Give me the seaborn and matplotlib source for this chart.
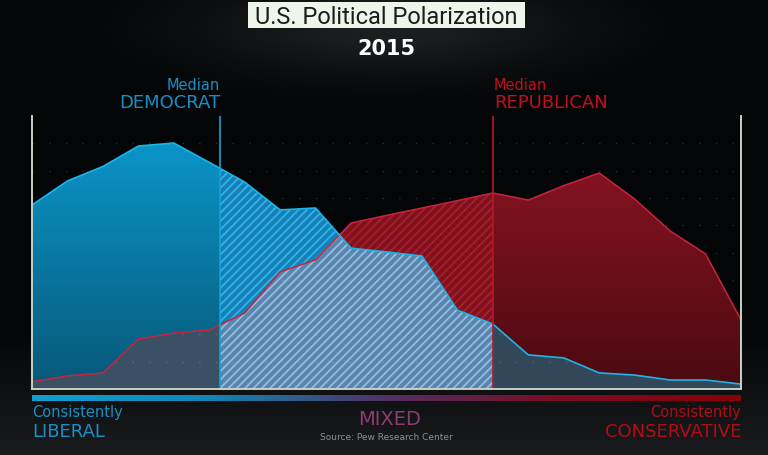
import numpy as np
import matplotlib
matplotlib.use('Agg')
import matplotlib.pyplot as plt
import seaborn as sns
from matplotlib.patches import Rectangle
from matplotlib.colors import LinearSegmentedColormap

# %% data - Pew ideological consistency scale (-10 liberal .. +10 conservative), share of party
scale = np.arange(-10, 11)
dem = [6.74, 7.62, 8.15, 8.90, 9.01, 8.30, 7.58, 6.56, 6.63, 5.16, 5.02,
       4.87, 2.89, 2.38, 1.25, 1.14, 0.59, 0.51, 0.33, 0.33, 0.18]
rep = [0.26, 0.48, 0.59, 1.83, 2.05, 2.16, 2.78, 4.29, 4.73, 6.08, 6.36,
       6.63, 6.90, 7.18, 6.92, 7.45, 7.91, 6.96, 5.79, 4.95, 2.53]
med_dem = -4.7
med_rep = 3.0

dem = np.array(dem)
rep = np.array(rep)

sns.set_style('dark')
plt.rcParams['font.family'] = ['DejaVu Sans']
plt.rcParams['hatch.linewidth'] = 1.3

W, H = 768, 456
fig = plt.figure(figsize=(W / 100, H / 100), dpi=100)

# %% background: near black with lighter floor and a glow behind the title
bg = fig.add_axes([0, 0, 1, 1], zorder=-10)
yy, xx = np.mgrid[0:H, 0:W]
t = np.clip((yy - 330) / 126, 0, 1)[..., None]
top = np.array([0.016, 0.02, 0.024])
bot = np.array([0.10, 0.108, 0.118])
img = top * (1 - t) + bot * t
img = img + (0.10 * np.exp(-((xx - 386) / 190) ** 2 - ((yy - 28) / 48) ** 2))[..., None]
bg.imshow(np.clip(img, 0, 1), aspect='auto')
bg.axis('off')

# %% main axes
ax = fig.add_axes([32 / W, 66 / H, 709 / W, 273 / H])
ax.patch.set_alpha(0)
ax.set_xlim(-10, 10)
ax.set_ylim(0, 10)


def rect(x0, x1):
    return Rectangle((x0, -1), x1 - x0, 12, transform=ax.transData)


def flat(y1, y2, x0, x1, fc, z, hatch=None, ec='none', where=None):
    p = ax.fill_between(scale, y1, y2, where=where, interpolate=True,
                        facecolor=fc, edgecolor=ec, hatch=hatch,
                        linewidth=0, zorder=z)
    p.set_clip_path(rect(x0, x1))


def grad(y1, y2, x0, x1, c_top, c_bot, z, where=None):
    p = ax.fill_between(scale, y1, y2, where=where, interpolate=True,
                        facecolor='none', linewidth=0)
    cmap = LinearSegmentedColormap.from_list('g', [c_bot, c_top])
    im = ax.imshow(np.linspace(0, 1, 256).reshape(-1, 1), extent=[x0, x1, 0, 10],
                   origin='lower', aspect='auto', cmap=cmap, zorder=z)
    im.set_clip_path(p.get_paths()[0], transform=ax.transData)


# overlap (under both curves) - drawn over the union, the single-party parts go on top
for y in (dem, rep):
    flat(0, y, -10, med_dem, '#3a5165', 2)
    flat(0, y, med_dem, med_rep, '#5c85ab', 2, hatch='////', ec='#90bee6')
    flat(0, y, med_rep, 10, '#32475a', 2)

# democrat only
blue_only = dem >= rep
grad(rep, dem, -10, med_dem, '#0b9bd0', '#075878', 3, where=blue_only)
flat(rep, dem, med_dem, 10, '#1680b6', 3, hatch='////', ec='#2db3ea', where=blue_only)

# republican only
red_only = rep >= dem
flat(dem, rep, -10, med_rep, '#7e131e', 3, hatch='////', ec='#ac1e2f', where=red_only)
grad(dem, rep, med_rep, 10, '#941526', '#4a0a11', 3, where=red_only)

sns.lineplot(x=scale, y=rep, ax=ax, color='#c8233d', lw=1.1, zorder=5)
sns.lineplot(x=scale, y=dem, ax=ax, color='#1cb4e8', lw=1.2, zorder=5)

ax.axvline(med_dem, color='#1a9fd4', lw=1.2, zorder=6)
ax.axvline(med_rep, color='#b8162c', lw=1.2, zorder=6)

# dotted lattice
ax.set_axisbelow(False)
ax.set_yticks(np.arange(1, 10))
ax.set_xticks([])
ax.yaxis.grid(True, color='white', alpha=0.16, linestyle=(0, (1, 11)), lw=1)
ax.xaxis.grid(False)
ax.tick_params(length=0, labelbottom=False, labelleft=False)
ax.set_xlabel('')
ax.set_ylabel('')
for s in ['left', 'right', 'bottom']:
    ax.spines[s].set_visible(True)
    ax.spines[s].set_color('#c9d1c6')
    ax.spines[s].set_linewidth(1.4)
    ax.spines[s].set_zorder(7)
ax.spines['top'].set_visible(False)

# %% liberal -> conservative colour strip
cb = fig.add_axes([32 / W, 54 / H, 709 / W, 6 / H])
strip = LinearSegmentedColormap.from_list(
    'strip', ['#119fd2', '#0f86b5', '#533064', '#7a0c22', '#8a0008'])
cb.imshow(np.linspace(0, 1, 512).reshape(1, -1), aspect='auto', cmap=strip)
cb.axis('off')

# %% text
def fy(px):
    return 1 - px / H


fig.patches.append(Rectangle((248 / W, fy(29)), 277 / W, 26 / H, transform=fig.transFigure,
                             facecolor='#eef5ea', edgecolor='none', zorder=1))
fig.text(386 / W, fy(17), 'U.S. Political Polarization', ha='center', va='center',
         family='Roboto', fontsize=17, color='#1c1c1c', zorder=2)
fig.text(386 / W, fy(49), '2015', ha='center', va='center', fontsize=15,
         fontweight='bold', color='white')

blue_t = '#1a8fc4'
red_t = '#c0101e'
fig.text(220 / W, fy(85), 'Median', ha='right', va='center', fontsize=10.5, color=blue_t)
fig.text(220 / W, fy(103), 'DEMOCRAT', ha='right', va='center', fontsize=13, color=blue_t)
fig.text(494 / W, fy(85), 'Median', ha='left', va='center', fontsize=10.5, color=red_t)
fig.text(494 / W, fy(103), 'REPUBLICAN', ha='left', va='center', fontsize=13, color=red_t)

fig.text(32 / W, fy(413), 'Consistently', ha='left', va='center', fontsize=10.5, color=blue_t)
fig.text(32 / W, fy(432), 'LIBERAL', ha='left', va='center', fontsize=13, color=blue_t)
fig.text(741 / W, fy(413), 'Consistently', ha='right', va='center', fontsize=10.5, color='#b00c16')
fig.text(741 / W, fy(432), 'CONSERVATIVE', ha='right', va='center', fontsize=13, color='#b00c16')
fig.text(390 / W, fy(420), 'MIXED', ha='center', va='center', fontsize=14, color='#8c3c70')
fig.text(386 / W, fy(438), 'Source: Pew Research Center', ha='center', va='center',
         fontsize=6.5, color='#8d8f90')

fig.savefig('out.png', dpi=100)
